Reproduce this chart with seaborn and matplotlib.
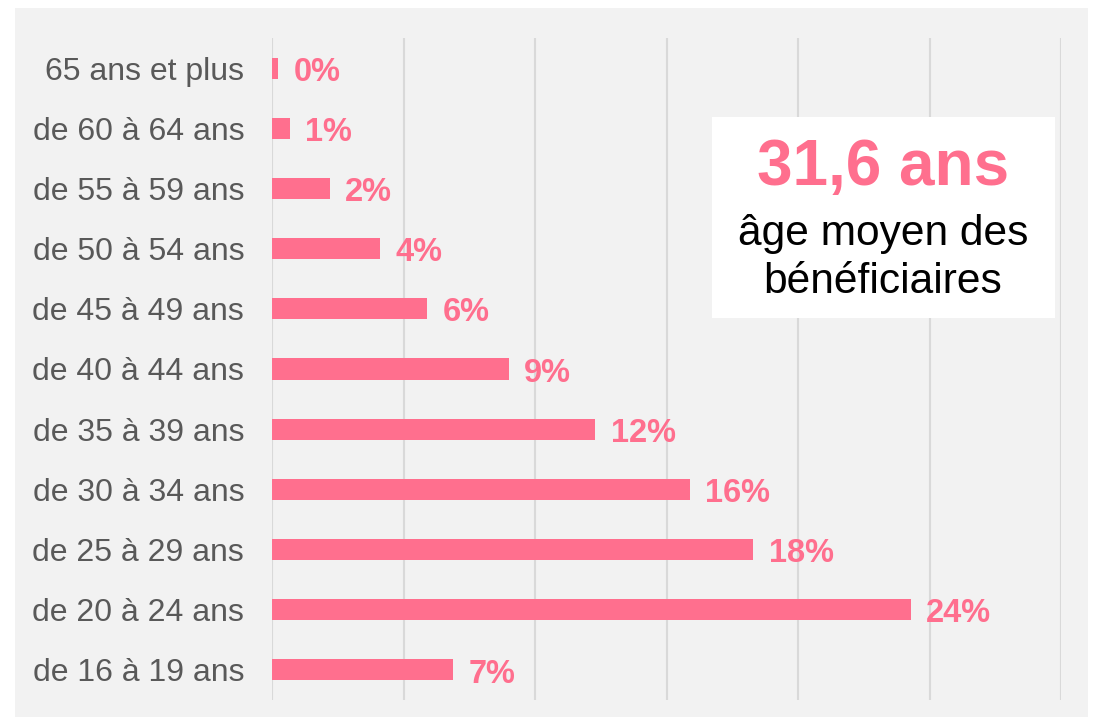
import pandas as pd
import matplotlib.pyplot as plt
import seaborn as sns
from matplotlib.patches import Rectangle

# tranches d'âge, du haut vers le bas
tranches = ["65 ans et plus", "de 60 à 64 ans", "de 55 à 59 ans", "de 50 à 54 ans",
            "de 45 à 49 ans", "de 40 à 44 ans", "de 35 à 39 ans", "de 30 à 34 ans",
            "de 25 à 29 ans", "de 20 à 24 ans", "de 16 à 19 ans"]
parts = [0.23, 0.68, 2.2, 4.1, 5.9, 9.0, 12.3, 15.9, 18.3, 24.3, 6.9]
ticks = [0, 5, 10, 15, 20, 25, 30]
age_moyen = "31,6 ans"
sous_titre = "âge moyen des\nbénéficiaires"

rose = "#FF6F8E"
gris = "#595959"

df = pd.DataFrame({"Tranche": tranches, "Part": parts})

sns.set_style("white")
plt.rcParams["font.family"] = ["Liberation Sans", "DejaVu Sans"]

fig = plt.figure(figsize=(10.94, 7.24), dpi=100)
fig.patch.set_facecolor("white")
fig.patches.append(Rectangle((15 / 1094, 1 - 717 / 724), 1073 / 1094, 709 / 724,
                             transform=fig.transFigure, facecolor="#F2F2F2",
                             edgecolor="none", zorder=-10))

ax = fig.add_axes([272 / 1094, 1 - 700 / 724, 789 / 1094, 662 / 724])
ax.set_facecolor("none")

sns.barplot(data=df, x="Part", y="Tranche", orient="h", color=rose,
            width=0.35, saturation=1, linewidth=0, ax=ax, zorder=3)

for cont in ax.containers:
    labs = ax.bar_label(cont, labels=[f"{v:.0f}%" for v in parts], padding=11,
                        color=rose, fontsize=23.5, fontweight="bold")
    # léger décalage vers le bas (points)
    for t in labs:
        t.set_y(-3)

ax.set_xlim(0, 30)
ax.set_xticks(ticks)
ax.xaxis.grid(True, color="#D9D9D9", linewidth=1.5, zorder=0)
ax.set_axisbelow(True)
ax.tick_params(axis="x", length=0, labelbottom=False)
ax.tick_params(axis="y", length=0, pad=20, labelsize=23, labelcolor=gris)
ax.set_xlabel("")
ax.set_ylabel("")
sns.despine(ax=ax, left=True, bottom=True)

# encadré âge moyen
fig.patches.append(Rectangle((712 / 1094, 1 - 318 / 724), 343 / 1094, 201 / 724,
                             transform=fig.transFigure, facecolor="white",
                             edgecolor="none", zorder=5))
fig.text(883 / 1094, 1 - 168 / 724, age_moyen, ha="center", va="center",
         fontsize=46, fontweight="bold", color=rose, zorder=6)
fig.text(883 / 1094, 1 - 258 / 724, sous_titre, ha="center", va="center",
         fontsize=30.6, color="black", linespacing=1.25, zorder=6)

fig.savefig("out.png", dpi=100)
